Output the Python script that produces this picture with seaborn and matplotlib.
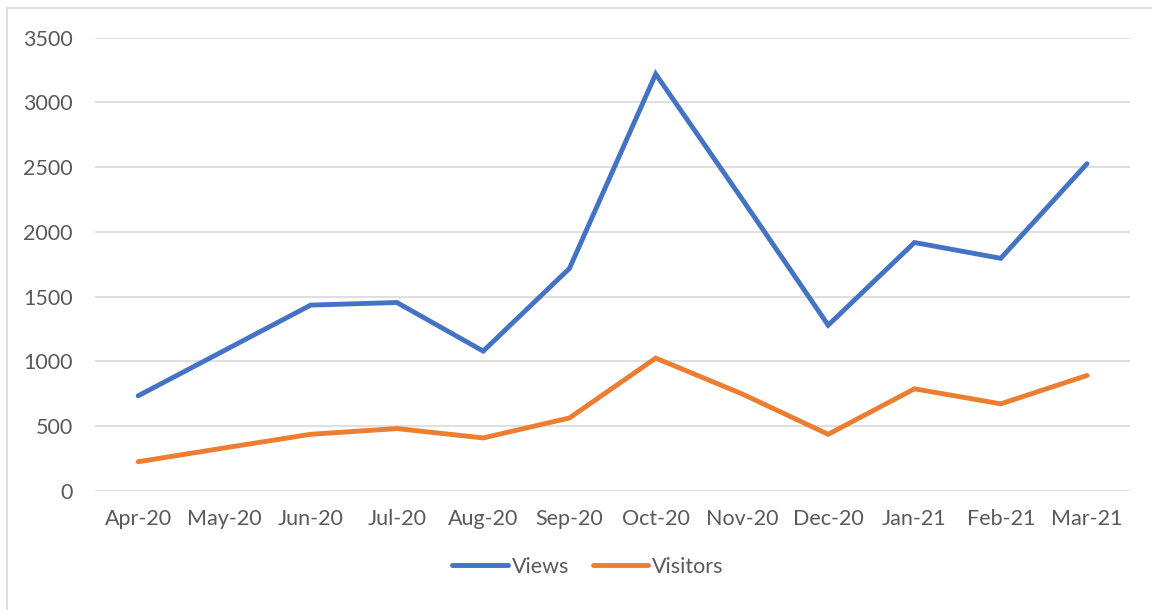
import matplotlib
matplotlib.use("Agg")
import matplotlib.pyplot as plt
import seaborn as sns
import pandas as pd
from matplotlib.lines import Line2D

months = ["Apr-20", "May-20", "Jun-20", "Jul-20", "Aug-20", "Sep-20",
          "Oct-20", "Nov-20", "Dec-20", "Jan-21", "Feb-21", "Mar-21"]
views = [735, 1085, 1435, 1455, 1080, 1718, 3218, 2255, 1280, 1918, 1796, 2526]
visitors = [226, 333, 438, 482, 410, 564, 1026, 750, 438, 789, 673, 892]

series_names = ["Views", "Visitors"]
series_colors = ["#4472C4", "#ED7D31"]

df = pd.DataFrame({
    "Month": months * 2,
    "pos": list(range(len(months))) * 2,
    "Value": views + visitors,
    "Series": [series_names[0]] * len(months) + [series_names[1]] * len(months),
})

sns.set_theme(style="white")
plt.rcParams["font.family"] = ["Lato", "DejaVu Sans"]

fig = plt.figure(figsize=(11.52, 6.10), dpi=100)
ax = fig.add_axes([0.0825, 0.195, 0.8985, 0.7435])

sns.lineplot(data=df, x="pos", y="Value", hue="Series",
             palette=dict(zip(series_names, series_colors)),
             linewidth=3.5, ax=ax, sort=False, legend=True,
             solid_capstyle="round", solid_joinstyle="miter")

ax.set_xlim(-0.5, len(months) - 0.5)
ax.set_ylim(0, 3500)
ax.set_yticks(range(0, 3501, 500))
ax.set_xticks(range(len(months)))
ax.set_xticklabels(months)
ax.set_xlabel("")
ax.set_ylabel("")
ax.grid(axis="y", color="#D9D9D9", linewidth=1.2)
ax.set_axisbelow(True)
for s in ax.spines.values():
    s.set_visible(False)
ax.tick_params(axis="both", length=0, labelsize=15.5, colors="#595959")
ax.tick_params(axis="y", pad=16)
ax.tick_params(axis="x", pad=13)

handles, labels = ax.get_legend_handles_labels()
for h in handles:
    h.set_linewidth(3.5)
    h.set_solid_capstyle("round")
leg = ax.legend(handles, labels, loc="center", bbox_to_anchor=(0.476, -0.167),
                ncol=2, frameon=False, fontsize=15.5, handlelength=2.6,
                handletextpad=0.15, columnspacing=1.1)
for t in leg.get_texts():
    t.set_color("#595959")

# chart frame: only the left and top edges fall inside the canvas
frame_kw = dict(transform=fig.transFigure, color="#D9D9D9", linewidth=1.2)
x0, y0 = 7 / 1152, 1 - 8 / 610
fig.lines.append(Line2D([x0, x0], [0, y0], **frame_kw))
fig.lines.append(Line2D([x0, 1], [y0, y0], **frame_kw))

fig.savefig("out.png", dpi=100, facecolor="white")
